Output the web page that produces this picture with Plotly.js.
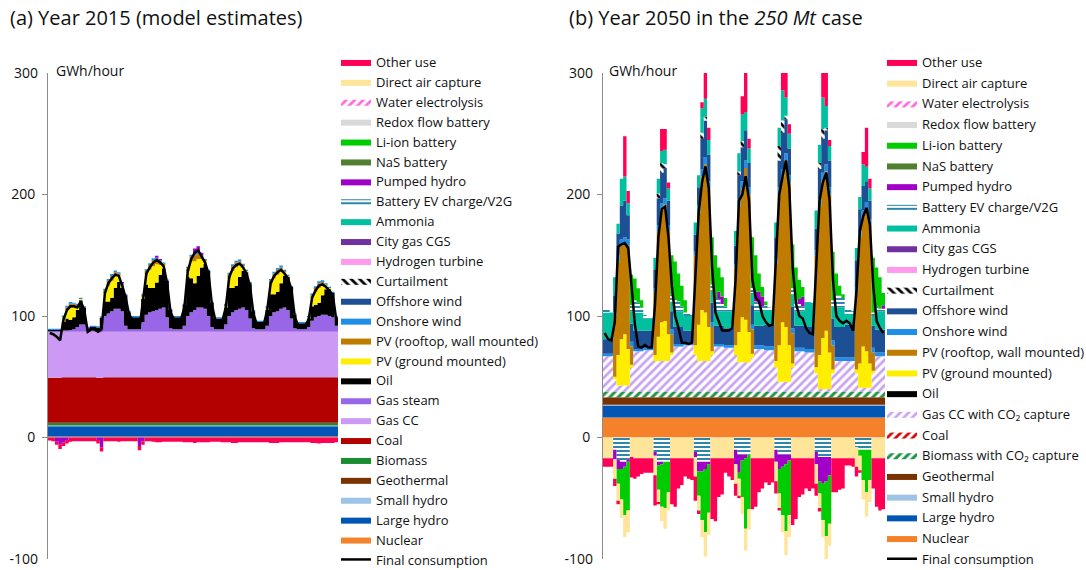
<!DOCTYPE html>
<html><head><meta charset="utf-8">
<script src="https://cdn.plot.ly/plotly-3.0.1.min.js"></script>
<style>html,body{margin:0;padding:0;background:#fff}#chart{width:1086px;height:570px}</style>
</head><body><div id="chart"></div>
<script>
// Hour at the start of each 2-hour block (one week)
const HOURS = [0,2,4,6,8,10,12,14,16,18,20,22, 24,26,28,30,32,34,36,38,40,42,44,46,
 48,50,52,54,56,58,60,62,64,66,68,70, 72,74,76,78,80,82,84,86,88,90,92,94,
 96,98,100,102,104,106,108,110,112,114,116,118, 120,122,124,126,128,130,132,134,136,138,140,142,
 144,146,148,150,152,154,156,158,160,162,164,166];

// ---------- Panel (a): 2015 ----------
const A_NUCLEAR = [0.8,0.8,0.8,0.8,0.8,0.8,0.8,0.8,0.8,0.8,0.8,0.8, 0.8,0.8,0.8,0.8,0.8,0.8,0.8,0.8,0.8,0.8,0.8,0.8,
 0.8,0.8,0.8,0.8,0.8,0.8,0.8,0.8,0.8,0.8,0.8,0.8, 0.8,0.8,0.8,0.8,0.8,0.8,0.8,0.8,0.8,0.8,0.8,0.8,
 0.8,0.8,0.8,0.8,0.8,0.8,0.8,0.8,0.8,0.8,0.8,0.8, 0.8,0.8,0.8,0.8,0.8,0.8,0.8,0.8,0.8,0.8,0.8,0.8,
 0.8,0.8,0.8,0.8,0.8,0.8,0.8,0.8,0.8,0.8,0.8,0.8];
const A_LHYDRO = [8.5,8.5,8.5,8.5,8.5,8.5,8.5,8.5,8.5,8.5,8.5,8.5, 8.5,8.5,8.5,8.5,8.5,8.5,8.5,8.5,8.5,8.5,8.5,8.5,
 8.5,8.5,8.5,8.5,8.5,8.5,8.5,8.5,8.5,8.5,8.5,8.5, 8.5,8.5,8.5,8.5,8.5,8.5,8.5,8.5,8.5,8.5,8.5,8.5,
 8.5,8.5,8.5,8.5,8.5,8.5,8.5,8.5,8.5,8.5,8.5,8.5, 8.5,8.5,8.5,8.5,8.5,8.5,8.5,8.5,8.5,8.5,8.5,8.5,
 8.5,8.5,8.5,8.5,8.5,8.5,8.5,8.5,8.5,8.5,8.5,8.5];
const A_SHYDRO = [0.5,0.5,0.5,0.5,0.5,0.5,0.5,0.5,0.5,0.5,0.5,0.5, 0.5,0.5,0.5,0.5,0.5,0.5,0.5,0.5,0.5,0.5,0.5,0.5,
 0.5,0.5,0.5,0.5,0.5,0.5,0.5,0.5,0.5,0.5,0.5,0.5, 0.5,0.5,0.5,0.5,0.5,0.5,0.5,0.5,0.5,0.5,0.5,0.5,
 0.5,0.5,0.5,0.5,0.5,0.5,0.5,0.5,0.5,0.5,0.5,0.5, 0.5,0.5,0.5,0.5,0.5,0.5,0.5,0.5,0.5,0.5,0.5,0.5,
 0.5,0.5,0.5,0.5,0.5,0.5,0.5,0.5,0.5,0.5,0.5,0.5];
const A_GEO = [0.3,0.3,0.3,0.3,0.3,0.3,0.3,0.3,0.3,0.3,0.3,0.3, 0.3,0.3,0.3,0.3,0.3,0.3,0.3,0.3,0.3,0.3,0.3,0.3,
 0.3,0.3,0.3,0.3,0.3,0.3,0.3,0.3,0.3,0.3,0.3,0.3, 0.3,0.3,0.3,0.3,0.3,0.3,0.3,0.3,0.3,0.3,0.3,0.3,
 0.3,0.3,0.3,0.3,0.3,0.3,0.3,0.3,0.3,0.3,0.3,0.3, 0.3,0.3,0.3,0.3,0.3,0.3,0.3,0.3,0.3,0.3,0.3,0.3,
 0.3,0.3,0.3,0.3,0.3,0.3,0.3,0.3,0.3,0.3,0.3,0.3];
const A_BIO = [2,2,2,2,2,2,2,2,2,2,2,2, 2,2,2,2,2,2,2,2,2,2,2,2, 2,2,2,2,2,2,2,2,2,2,2,2, 2,2,2,2,2,2,2,2,2,2,2,2,
 2,2,2,2,2,2,2,2,2,2,2,2, 2,2,2,2,2,2,2,2,2,2,2,2, 2,2,2,2,2,2,2,2,2,2,2,2];
const A_COAL = [37,37,37,37,37.5,37.5,37.5,37.5,37.5,37.5,37.5,37.5, 37.5,37.5,37,37,37.5,37.5,37.5,37.5,37.5,37.5,37.5,37.5,
 37.5,37.5,37.5,37.5,37.5,37.5,37.5,37.5,37.5,37.5,37.5,37.5, 37.5,37.5,37.5,37.5,37.5,37.5,37.5,37.5,37.5,37.5,37.5,37.5,
 37.5,37.5,37.5,37.5,37.5,37.5,37.5,37.5,37.5,37.5,37.5,37.5, 37.5,37.5,37.5,37.5,37.5,37.5,37.5,37.5,37.5,37.5,37.5,37.5,
 37.5,37.5,37.5,37.5,37.5,37.5,37.5,37.5,37.5,37.5,37.5,37.5];
const A_GASCC = [37.4,37.4,37.4,37.4,37.4,37.4,37.4,37.4,37.4,37.4,37.4,37.4, 37.4,37.4,37.4,37.4,37.4,37.4,37.4,37.4,37.4,37.4,37.4,37.4,
 37.4,37.4,37.4,37.4,37.4,37.4,37.4,37.4,37.4,37.4,37.4,37.4, 37.4,37.4,37.4,37.4,37.4,37.4,37.4,37.4,37.4,37.4,37.4,37.4,
 37.4,37.4,37.4,37.4,37.4,37.4,37.4,37.4,37.4,37.4,37.4,37.4, 37.4,37.4,37.4,37.4,37.4,37.4,37.4,37.4,37.4,37.4,37.4,37.4,
 37.4,37.4,37.4,37.4,37.4,37.4,37.4,37.4,37.4,37.4,37.4,37.4];
const A_STEAM = [1,1,1,1,1,1,1.5,2,4,6,6,2, 1.5,1.5,1.5,3,13,15,17,19,19,17,5,2,
 2,2,2,8,14,16,17,18,19,20,12,3, 2,2,2,5,13,16,18,20,20,19,13,4,
 2,2,2,6,13,16,18,19,20,18,11,3, 2,2,2,5,13,16,17,19,20,18,11,3,
 2,2,2,4,9,12,13,14,14,13,12,5];
const A_OIL = [1,1,1,1,7,10,8.5,10,14,20,14,1, 2.5,2.5,2.5,9,12,10,11,17,22,19,25,14,
 10,10,10,19,25,20,19,22.5,28,32,30,15, 10,10,10,17,32,28,22,26,33,37,37,20,
 9,9,9,14,23,20,20,26,30,31,29,14, 6,6,6,13,18,15,16,21,26,27,26,11,
 5,5,5,7,12,10,11,16,21,22,20,7];
const A_PVG = [0,0,0,0,3,7,10,8,3,1,0,0, 0,0,0,0,7,13,14,10,5,2,0,0,
 0,0,0,2,8,15,18,15,8,3,0,0, 0,0,0,0,5,14,18,14,7,2,0,0,
 0,0,0,1,8,14,15,10,4,1,0,0, 0,0,0,1,8,13,14,10,3,1,0,0,
 0,0,0,1,7,11,12,8,3,1,0,0];
const A_PVR = [0,0,0,0,1,2,3,3,1,0,0,0, 0,0,0,0,2,4,4,3,2,1,0,0,
 0,0,0,1,3,4,5,4,3,1,0,0, 0,0,0,0,2,4,5,4,2,1,0,0,
 0,0,0,1,3,4,4,3,1,0,0,0, 0,0,0,1,3,4,4,3,1,0,0,0,
 0,0,0,0,2,3,4,3,1,0,0,0];
const A_ONSHORE = [1,1,1,1,1.5,1.5,1.5,1,1,1,1,1, 1,1,1,1,1.5,1.5,1.5,1.5,1,1,1,1,
 1,1,1,1,1.5,1.5,1.5,1.5,1,1,1,1, 1,1,1,1,1.5,1.5,1.5,1.5,1,1,1,1,
 1,1,1,1,1.5,1.5,1.5,1.5,1,1,1,1, 1,1,1,1,1.5,1.5,1.5,1.5,1,1,1,1,
 1,1,1,1,1.5,1.5,1.5,1.5,1,1,1,1];
const A_PUMPED = [0,0,-3,-6,-4,-2,0,0,0,0,0,0, 0,0,-2,-8,0,0,0,0,0,1,0,0,
 0,0,-7,-3,0,0,0,1.5,1,0,0,0, 0,0,0,0,0,0,4,5,2,0,0,0,
 0,0,0,0,0,0,0,0,0,0,0,0, 0,0,0,0,0,0,0,0,0,0,0,0,
 0,0,0,0,0,0,0,0,0,0,0,0];
const A_OTHER = [-2.5,-3,-3,-3.5,-3,-3,-3.5,-3,-3,-3,-3,-3, -3,-3,-3,-3.5,-3,-3,-3,-3,-3.5,-3,-3,-3,
 -3,-3,-3.5,-3,-3,-3,-3.5,-4,-4,-3.5,-3.5,-3.5, -3.5,-3.5,-3.5,-4,-4,-4,-4.5,-4,-4,-4,-4,-3.5,
 -3.5,-3.5,-4,-4,-4,-4.5,-4.5,-4,-4,-4,-4,-4, -4,-4,-4,-4,-4.5,-4.5,-4.5,-4,-4,-4,-4,-4,
 -4,-4,-4,-4,-4.5,-4.5,-5,-4.5,-4.5,-4.5,-4.5,-4];
const A_CONSUMPTION = [86,85,83,80,97,105,108,108,107,112,105,87, 89,89,87,89,119,127,131,134,133,125,115,101,
 97,97,90,112,135,140,144,146,144,141,127,103, 97,97,97,107,137,147,152,154,149,144,135,109,
 96,96,96,107,132,139,142,143,140,135,125,102, 93,93,93,105,127,133,136,138,135,131,122,99,
 92,92,92,97,115,121,125,126,124,121,117,97];

// ---------- Panel (b): 2050, 250 Mt case ----------
const B_NUCLEAR = [16.5,16.5,16.5,16.5,16.5,16.5,16.5,16.5,16.5,16.5,16.5,16.5, 16.5,16.5,16.5,16.5,16.5,16.5,16.5,16.5,16.5,16.5,16.5,16.5,
 16.5,16.5,16.5,16.5,16.5,16.5,16.5,16.5,16.5,16.5,16.5,16.5, 16.5,16.5,16.5,16.5,16.5,16.5,16.5,16.5,16.5,16.5,16.5,16.5,
 16.5,16.5,16.5,16.5,16.5,16.5,16.5,16.5,16.5,16.5,16.5,16.5, 16.5,16.5,16.5,16.5,16.5,16.5,16.5,16.5,16.5,16.5,16.5,16.5,
 16.5,16.5,16.5,16.5,16.5,16.5,16.5,16.5,16.5,16.5,16.5,16.5];
const B_LHYDRO = [9.8,9.8,9.8,9.8,9.8,9.8,9.8,9.8,9.8,9.8,9.8,9.8, 9.8,9.8,9.8,9.8,9.8,9.8,9.8,9.8,9.8,9.8,9.8,9.8,
 9.8,9.8,9.8,9.8,9.8,9.8,9.8,9.8,9.8,9.8,9.8,9.8, 9.8,9.8,9.8,9.8,9.8,9.8,9.8,9.8,9.8,9.8,9.8,9.8,
 9.8,9.8,9.8,9.8,9.8,9.8,9.8,9.8,9.8,9.8,9.8,9.8, 9.8,9.8,9.8,9.8,9.8,9.8,9.8,9.8,9.8,9.8,9.8,9.8,
 9.8,9.8,9.8,9.8,9.8,9.8,9.8,9.8,9.8,9.8,9.8,9.8];
const B_SHYDRO = [0.7,0.7,0.7,0.7,0.7,0.7,0.7,0.7,0.7,0.7,0.7,0.7, 0.7,0.7,0.7,0.7,0.7,0.7,0.7,0.7,0.7,0.7,0.7,0.7,
 0.7,0.7,0.7,0.7,0.7,0.7,0.7,0.7,0.7,0.7,0.7,0.7, 0.7,0.7,0.7,0.7,0.7,0.7,0.7,0.7,0.7,0.7,0.7,0.7,
 0.7,0.7,0.7,0.7,0.7,0.7,0.7,0.7,0.7,0.7,0.7,0.7, 0.7,0.7,0.7,0.7,0.7,0.7,0.7,0.7,0.7,0.7,0.7,0.7,
 0.7,0.7,0.7,0.7,0.7,0.7,0.7,0.7,0.7,0.7,0.7,0.7];
const B_GEO = [6.2,6.2,6.2,6.2,6.2,6.2,6.2,6.2,6.2,6.2,6.2,6.2, 6.2,6.2,6.2,6.2,6.2,6.2,6.2,6.2,6.2,6.2,6.2,6.2,
 6.2,6.2,6.2,6.2,6.2,6.2,6.2,6.2,6.2,6.2,6.2,6.2, 6.2,6.2,6.2,6.2,6.2,6.2,6.2,6.2,6.2,6.2,6.2,6.2,
 6.2,6.2,6.2,6.2,6.2,6.2,6.2,6.2,6.2,6.2,6.2,6.2, 6.2,6.2,6.2,6.2,6.2,6.2,6.2,6.2,6.2,6.2,6.2,6.2,
 6.2,6.2,6.2,6.2,6.2,6.2,6.2,6.2,6.2,6.2,6.2,6.2];
const B_BIOCCS = [4.7,4.7,4.7,4.7,4.7,4.7,4.7,4.7,4.7,4.7,4.7,4.7, 4.7,4.7,4.7,4.7,4.7,4.7,4.7,4.7,4.7,4.7,4.7,4.7,
 4.7,4.7,4.7,4.7,4.7,4.7,4.7,4.7,4.7,4.7,4.7,4.7, 4.7,4.7,4.7,4.7,4.7,4.7,4.7,4.7,4.7,4.7,4.7,4.7,
 4.7,4.7,4.7,4.7,4.7,4.7,4.7,4.7,4.7,4.7,4.7,4.7, 4.7,4.7,4.7,4.7,4.7,4.7,4.7,4.7,4.7,4.7,4.7,4.7,
 4.7,4.7,4.7,4.7,4.7,4.7,4.7,4.7,4.7,4.7,4.7,4.7];
const B_GASCCS = [29,29,29,10,5,5,5,5,20,33,33,33, 34,34,34,25,25,25,25,25,30,37,37,37,
 38,38,38,30,25,25,25,25,30,37,37,37, 36,36,36,30,24,24,24,24,28,35,35,35,
 34,34,34,20,8,8,8,8,20,33,33,33, 32,32,32,15,2,2,2,2,15,25,25,25,
 25,25,25,15,3,3,3,3,15,29,29,29];
const B_PVG = [0,0,0,2,25,38,42,30,2,0,0,0, 0,0,0,5,20,32,33,22,2,0,0,0,
 0,0,0,8,30,42,40,28,3,0,0,0, 0,0,0,8,25,37,35,25,3,0,0,0,
 0,0,0,5,30,49,45,30,3,0,0,0, 0,0,0,5,28,42,48,30,3,0,0,0,
 0,0,0,3,20,34,30,20,2,0,0,0];
const B_PVR = [0,0,0,50,77,77,75,85,15,0,0,0, 0,0,0,52,87,93,96,85,15,0,0,0,
 0,0,0,74,92,110,122,114,20,0,0,0, 0,0,0,64,103,106,125,113,20,0,0,0,
 0,0,0,80,124,120,137,134,25,0,0,0, 0,0,0,92,122,130,131,130,20,0,0,0,
 0,0,0,64,104,107,118,114,15,0,0,0];
const B_ONSHORE = [2,2,2,3,5,5,5,5,4,2,2,2, 2,2,2,3,5,5,5,5,4,2,2,2,
 2,2,2,3,6,6,6,6,4,2,2,2, 2,2,2,3,6,6,6,6,4,3,3,3,
 3,3,3,4,6,6,6,6,4,3,3,3, 3,3,3,4,6,6,6,6,4,3,3,3,
 3,3,3,4,5,5,5,5,4,3,3,3];
const B_OFFSHORE = [12,12,12,14,18,28,30,20,15,15,15,15, 14,14,14,15,22,25,25,20,15,14,14,14,
 10,10,10,14,15,25,30,22,16,15,15,15, 14,14,14,15,20,28,25,20,16,16,16,16,
 18,18,18,18,22,30,28,22,18,18,18,18, 18,18,18,18,25,28,28,22,18,25,25,25,
 27,27,27,22,18,20,17,15,18,19,19,19];
const B_CURTAIL = [0,0,0,0,0,0,0,0,0,0,0,0, 0,0,0,0,4,8,3,0,0,0,0,0,
 0,0,0,0,0,5,3,0,0,0,0,0, 0,0,0,0,3,5,0,0,0,0,0,0,
 0,0,0,0,12,10,3,0,0,0,0,0, 0,0,0,0,5,8,2,0,0,0,0,0,
 0,0,0,0,0,0,0,0,0,0,0,0];
const B_AMMONIA = [22,22,22,15,8,22,20,10,10,15,15,15, 10,10,10,10,12,10,12,10,8,13,13,13,
 12,12,12,10,10,20,15,12,10,12,12,12, 14,14,14,12,15,22,15,12,10,12,12,12,
 12,12,12,12,15,25,15,12,10,12,12,12, 20,20,20,15,15,26,18,12,10,16,16,16,
 9,9,9,10,10,18,12,10,8,15,15,15];
const B_EV = [3,2,0,-10,-18,-20,-20,-18,5,10,8,4, 3,2,1,-12,-20,-20,-20,-20,6,10,8,4,
 3,2,1,-12,-20,-20,-20,-20,5,10,10,6, 4,2,1,-10,-14,-14,-14,-14,5,8,6,4,
 4,2,1,-10,-14,-14,-14,-14,5,8,6,4, 2,1,0,-12,-16,-16,-16,-16,5,10,10,8,
 3,3,2,-8,-10,-10,-10,-10,3,4,2,2];
const B_PUMPED = [0,0,0,-8,-8,-6,-4,-2,0,0,0,0, 0,0,0,-3,-3,-2,0,0,0,0,0,0,
 0,0,0,-4,-8,-8,-6,-2,0,0,6,6, 0,0,0,-12,-15,-5,-3,0,0,8,10,8,
 0,0,0,-10,-12,-10,-8,-5,0,0,4,8, 0,0,0,-10,-20,-22,-20,-15,0,0,0,0,
 0,0,0,0,0,0,0,0,0,0,0,3];
const B_LIION = [0,0,0,0,-12,-25,-40,-40,25,18,12,6, 0,0,0,0,-20,-35,-38,-25,32,31,23,17,
 10,0,0,0,-20,-40,-52,-40,39,36,20,16, 7,0,0,0,-5,-30,-58,-45,41,30,15,8,
 3,0,0,0,-20,-40,-55,-45,36,28,16,8, 0,0,0,0,-10,-30,-45,-40,40,18,8,3,
 0,0,0,0,-5,-25,-35,-25,45,32,26,10];
const B_DAC = [-17,-17,-17,-16,-14,-15,-18,-18,-16,-17,-17,-17, -17,-17,-17,-16,-10,-12,-17,-15,-17,-17,-17,-17,
 -17,-17,-17,-16,-12,-14,-20,-18,-17,-17,-17,-17, -17,-17,-17,-16,-14,-14,-18,-17,-17,-17,-17,-17,
 -17,-17,-17,-16,-12,-14,-20,-18,-17,-17,-17,-17, -17,-17,-17,-16,-12,-14,-20,-18,-17,-17,-17,-17,
 -17,-17,-17,-16,-12,-16,-20,-18,-17,-17,-17,-17];
const B_OTHER = [-7,-7,-7,-6,-3,0,33,10,-17,-17,-15,-13, -12,-12,-12,-25,-2,18,17,5,-38,-40,-25,-22,
 -15,-17,-18,-20,-3,5,21,10,-50,-52,-32,-30, -12,-15,-18,-10,-2,15,32,8,-42,-40,-28,-25,
 -20,-22,-20,-10,-2,14,20,8,-55,-50,-32,-30, -25,-27,-25,-10,-3,20,27,5,-28,-28,-26,-25,
 -6,-6,-7,-8,-2,10,32,8,-25,-40,-43,-42];
const B_CONSUMPTION = [86,81,80,95,157,159,160,156,125,93,75,74, 76,74,74,110,165,188,190,165,125,100,90,78,
 78,77,78,130,185,210,223,205,140,103,95,88, 88,88,90,130,195,200,215,195,130,115,112,100,
 95,92,93,150,200,215,228,205,140,110,100,98, 90,86,85,140,195,210,218,195,130,100,96,94,
 96,94,88,120,170,182,189,175,125,96,90,86];

// Legend order (top to bottom)
const LEGEND_A = ['Other use','Direct air capture','Water electrolysis','Redox flow battery','Li-ion battery','NaS battery',
 'Pumped hydro','Battery EV charge/V2G','Ammonia','City gas CGS','Hydrogen turbine','Curtailment','Offshore wind','Onshore wind',
 'PV (rooftop, wall mounted)','PV (ground mounted)','Oil','Gas steam','Gas CC','Coal','Biomass','Geothermal','Small hydro',
 'Large hydro','Nuclear','Final consumption'];
const LEGEND_B = ['Other use','Direct air capture','Water electrolysis','Redox flow battery','Li-ion battery','NaS battery',
 'Pumped hydro','Battery EV charge/V2G','Ammonia','City gas CGS','Hydrogen turbine','Curtailment','Offshore wind','Onshore wind',
 'PV (rooftop, wall mounted)','PV (ground mounted)','Oil','Gas CC with CO\u2082 capture','Coal','Biomass with CO\u2082 capture',
 'Geothermal','Small hydro','Large hydro','Nuclear','Final consumption'];

const C = {
  other:'#ff0055', dac:'#ffe599', we:'#ff66dd', redox:'#d9d9d9', li:'#00cc00', nas:'#4f7f2f', ph:'#a000c8',
  ev:'#2e86a8', amm:'#00c0a0', cgs:'#7030a0', h2:'#ff99ee', curt:'#000000', off:'#1c4f94', on:'#1e8ee6',
  pvr:'#bf7c00', pvg:'#ffee00', oil:'#000000', steam:'#9966e8', gascc:'#cc99f4', coal:'#b30000', bio:'#1a8c32',
  geo:'#7a3300', shydro:'#9dc3e6', lhydro:'#0055b5', nuc:'#f5822a'
};
const PAT = {
  we:{shape:'/', fgcolor:'#ff66dd', bgcolor:'#ffffff', size:6, solidity:0.45},
  ev:{shape:'-', fgcolor:'#2e86a8', bgcolor:'#ffffff', size:4, solidity:0.5},
  curt:{shape:'\\', fgcolor:'#000000', bgcolor:'#ffffff', size:6, solidity:0.45},
  gasccs:{shape:'/', fgcolor:'#c9a2f2', bgcolor:'#ffffff', size:6, solidity:0.45},
  coalb:{shape:'/', fgcolor:'#d00000', bgcolor:'#ffffff', size:6, solidity:0.45},
  bioccs:{shape:'/', fgcolor:'#1e9448', bgcolor:'#ffffff', size:6, solidity:0.5}
};

// stacking order (bottom -> top); y null = legend entry only (no output in this case)
const DEFS_A = [
  {name:'Nuclear', y:A_NUCLEAR, color:C.nuc},
  {name:'Large hydro', y:A_LHYDRO, color:C.lhydro},
  {name:'Small hydro', y:A_SHYDRO, color:C.shydro},
  {name:'Geothermal', y:A_GEO, color:C.geo},
  {name:'Biomass', y:A_BIO, color:C.bio},
  {name:'Coal', y:A_COAL, color:C.coal},
  {name:'Gas CC', y:A_GASCC, color:C.gascc},
  {name:'Gas steam', y:A_STEAM, color:C.steam},
  {name:'Oil', y:A_OIL, color:C.oil},
  {name:'PV (ground mounted)', y:A_PVG, color:C.pvg},
  {name:'PV (rooftop, wall mounted)', y:A_PVR, color:C.pvr},
  {name:'Onshore wind', y:A_ONSHORE, color:C.on},
  {name:'Offshore wind', y:null, color:C.off},
  {name:'Curtailment', y:null, color:'#000', pattern:PAT.curt},
  {name:'Hydrogen turbine', y:null, color:C.h2},
  {name:'City gas CGS', y:null, color:C.cgs},
  {name:'Ammonia', y:null, color:C.amm},
  {name:'Battery EV charge/V2G', y:null, color:C.ev, pattern:PAT.ev},
  {name:'Pumped hydro', y:A_PUMPED, color:C.ph},
  {name:'NaS battery', y:null, color:C.nas},
  {name:'Li-ion battery', y:null, color:C.li},
  {name:'Redox flow battery', y:null, color:C.redox},
  {name:'Water electrolysis', y:null, color:C.we, pattern:PAT.we},
  {name:'Direct air capture', y:null, color:C.dac},
  {name:'Other use', y:A_OTHER, color:C.other}
];
const DEFS_B = [
  {name:'Nuclear', y:B_NUCLEAR, color:C.nuc},
  {name:'Large hydro', y:B_LHYDRO, color:C.lhydro},
  {name:'Small hydro', y:B_SHYDRO, color:C.shydro},
  {name:'Geothermal', y:B_GEO, color:C.geo},
  {name:'Biomass with CO\u2082 capture', y:B_BIOCCS, color:'#1e9448', pattern:PAT.bioccs},
  {name:'Coal', y:null, color:'#d00000', pattern:PAT.coalb},
  {name:'Gas CC with CO\u2082 capture', y:B_GASCCS, color:'#c9a2f2', pattern:PAT.gasccs},
  {name:'Oil', y:null, color:C.oil},
  {name:'PV (ground mounted)', y:B_PVG, color:C.pvg},
  {name:'PV (rooftop, wall mounted)', y:B_PVR, color:C.pvr},
  {name:'Onshore wind', y:B_ONSHORE, color:C.on},
  {name:'Offshore wind', y:B_OFFSHORE, color:C.off},
  {name:'Curtailment', y:B_CURTAIL, color:'#000', pattern:PAT.curt},
  {name:'Hydrogen turbine', y:null, color:C.h2},
  {name:'City gas CGS', y:null, color:C.cgs},
  {name:'Ammonia', y:B_AMMONIA, color:C.amm},
  {name:'Battery EV charge/V2G', y:B_EV, color:C.ev, pattern:PAT.ev},
  {name:'Pumped hydro', y:B_PUMPED, color:C.ph},
  {name:'NaS battery', y:null, color:C.nas},
  {name:'Li-ion battery', y:B_LIION, color:C.li},
  {name:'Redox flow battery', y:null, color:C.redox},
  {name:'Water electrolysis', y:null, color:C.we, pattern:PAT.we},
  {name:'Direct air capture', y:B_DAC, color:C.dac},
  {name:'Other use', y:B_OTHER, color:C.other}
];

function buildPanel(tag, defs, consumption, xa, ya, legendId, order, grouped) {
  const traces = [];
  const xs = HOURS.concat([168]);
  defs.forEach(d => {
    const base = {
      type:'scatter', mode:'lines', xaxis:xa, yaxis:ya, legend:legendId, name:d.name,
      legendrank: order.indexOf(d.name) + 1, hoverinfo:'skip',
      line:{width:0, shape:'hv', color:d.color}, fillcolor:d.color
    };
    if (grouped) base.legendgroup = tag + d.name;
    if (d.pattern) base.fillpattern = Object.assign({fillmode:'replace'}, d.pattern);
    if (!d.y) {
      traces.push(Object.assign({}, base, {x:[null], y:[null], fill:'toself', showlegend:true}));
      return;
    }
    const ext = d.y.concat([d.y[d.y.length - 1]]);
    const pos = ext.map(v => v > 0 ? v : 0);
    const neg = ext.map(v => v < 0 ? v : 0);
    const hasPos = pos.some(v => v > 0), hasNeg = neg.some(v => v < 0);
    if (hasPos) traces.push(Object.assign({}, base, {x:xs, y:pos, stackgroup:tag + 'pos', showlegend:true}));
    if (hasNeg) traces.push(Object.assign({}, base, {x:xs, y:neg, stackgroup:tag + 'neg', showlegend:!hasPos}));
  });
  const line = {
    type:'scatter', mode:'lines', xaxis:xa, yaxis:ya, legend:legendId, name:'Final consumption',
    legendrank: order.indexOf('Final consumption') + 1, hoverinfo:'skip',
    x: HOURS.map(h => h + 1), y: consumption, line:{color:'#000', width:2.5}
  };
  if (grouped) line.legendgroup = tag + 'Final consumption';
  traces.push(line);
  return traces;
}

const data = buildPanel('a', DEFS_A, A_CONSUMPTION, 'x', 'y', 'legend', LEGEND_A, false)
  .concat(buildPanel('b', DEFS_B, B_CONSUMPTION, 'x2', 'y2', 'legend2', LEGEND_B, true));
// carriers for the end ticks (300 and -100) that point into the plot
data.push({type:'scatter', mode:'lines', x:[null], y:[null], xaxis:'x', yaxis:'y3', showlegend:false, hoverinfo:'skip'});
data.push({type:'scatter', mode:'lines', x:[null], y:[null], xaxis:'x2', yaxis:'y4', showlegend:false, hoverinfo:'skip'});

const W = 1086, H = 570;
const yDomain = [(H - 559) / H, (H - 73) / H];
function yax(anchor) {
  return {
    anchor: anchor, domain: yDomain, range: [-100, 300], tickmode:'array',
    tickvals: [0, 100, 200], ticktext: ['0', '100', '200'],
    ticks: 'outside', ticklen: 5, tickwidth: 1, tickcolor: '#8c8c8c', ticklabelstandoff: 4,
    showline: true, linecolor: '#8c8c8c', linewidth: 1, showgrid: false, zeroline: false,
    tickfont: {size: 14, color: '#111'}, fixedrange: true
  };
}
function yaxEnds(anchor, over) {
  return {
    anchor: anchor, overlaying: over, side: 'left', range: [-100, 300], tickmode:'array',
    tickvals: [-100, 300], ticktext: ['-100', '300'],
    ticks: 'inside', ticklen: 5, tickwidth: 1, tickcolor: '#8c8c8c', ticklabelstandoff: 9,
    showline: false, showgrid: false, zeroline: false,
    tickfont: {size: 14, color: '#111'}, fixedrange: true
  };
}
function xax(d0, d1, anchor) {
  return {domain: [d0 / W, d1 / W], range: [0, 168], visible: false, fixedrange: true, anchor: anchor};
}
function leg(xpx, gap, order) {
  return {
    x: xpx / W, xanchor: 'left', y: (H - 47) / H, yanchor: 'top', traceorder: order,
    font: {size: 13, color: '#111'}, bgcolor: 'rgba(0,0,0,0)', borderwidth: 0, tracegroupgap: gap
  };
}

const layout = {
  width: W, height: H, margin: {l: 0, r: 0, t: 0, b: 0, autoexpand: false},
  paper_bgcolor: '#fff', plot_bgcolor: '#fff',
  font: {family: '"Open Sans", sans-serif', color: '#111'},
  showlegend: true,
  xaxis: xax(48, 338, 'y'), yaxis: yax('x'), yaxis3: yaxEnds('x', 'y'),
  xaxis2: xax(603, 885, 'y2'), yaxis2: yax('x2'), yaxis4: yaxEnds('x2', 'y2'),
  legend: leg(336, 0, 'normal'), legend2: leg(882, 0.8, 'grouped'),
  annotations: [
    {text: '(a) Year 2015 (model estimates)', xref: 'paper', yref: 'paper', x: 8 / W, y: (H - 18) / H,
     xanchor: 'left', yanchor: 'middle', showarrow: false, font: {size: 20, color: '#111'}},
    {text: '(b) Year 2050 in the <i>250 Mt</i> case', xref: 'paper', yref: 'paper', x: 567 / W, y: (H - 18) / H,
     xanchor: 'left', yanchor: 'middle', showarrow: false, font: {size: 20, color: '#111'}},
    {text: 'GWh/hour', xref: 'paper', yref: 'paper', x: 54 / W, y: (H - 70) / H,
     xanchor: 'left', yanchor: 'middle', showarrow: false, font: {size: 14, color: '#111'}},
    {text: 'GWh/hour', xref: 'paper', yref: 'paper', x: 607 / W, y: (H - 70) / H,
     xanchor: 'left', yanchor: 'middle', showarrow: false, font: {size: 14, color: '#111'}}
  ]
};

Plotly.newPlot('chart', data, layout, {staticPlot: true, displayModeBar: false});
</script>
</body></html>
